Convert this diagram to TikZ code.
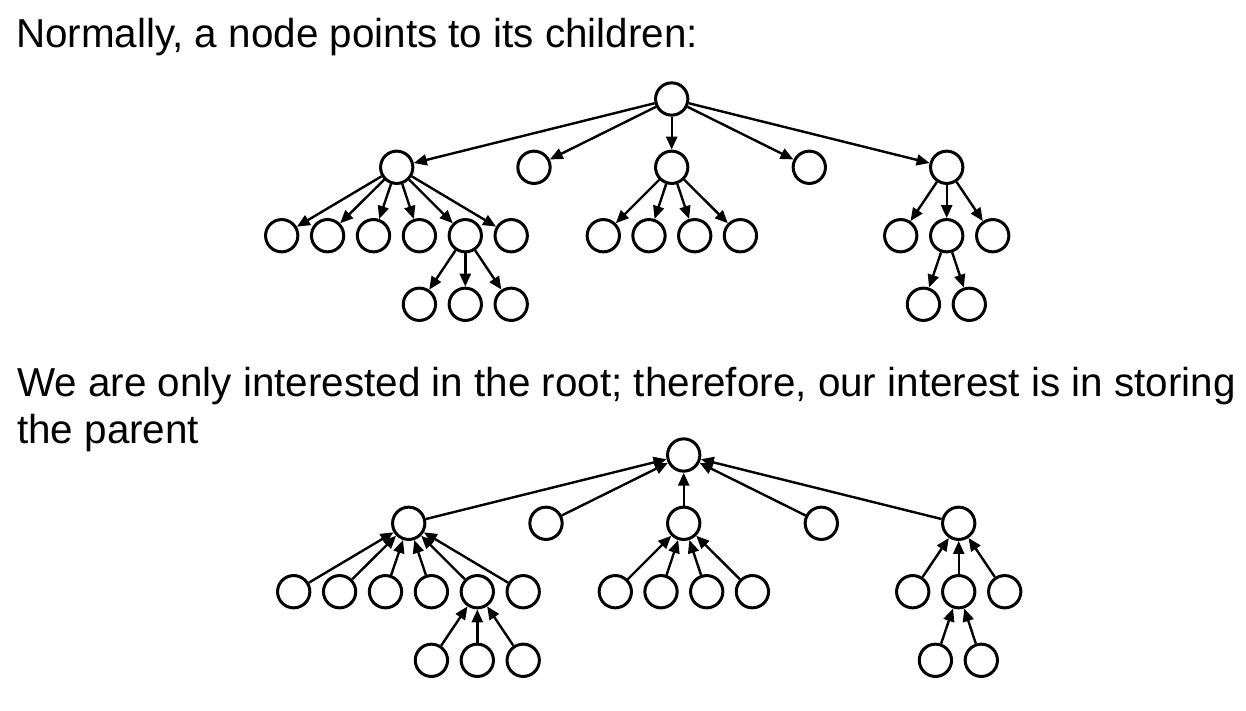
\documentclass[tikz,border=0pt]{standalone}
\usepackage{fontspec}
\setmainfont{Liberation Sans}
\usetikzlibrary{arrows.meta}
\tikzset{
  tn/.style={circle,draw=black,line width=3pt,minimum size=32.3pt,inner sep=0pt,fill=white},
  edge/.style={line width=2.4pt,draw=black},
  tip/.style={-{Triangle[length=13pt,width=11pt]}},
  lbl/.style={anchor=base west,inner sep=0pt,font=\fontsize{40.4}{46.6}\selectfont}
}
\newcommand{\mytreenodes}{%
  \node[tn] (r) at (671.7,99) {};
  \node[tn] (a) at (396.7,167.3) {};
  \node[tn] (b) at (534,167.3) {};
  \node[tn] (c) at (671.7,167.3) {};
  \node[tn] (d) at (809.3,167.3) {};
  \node[tn] (e) at (946.7,167.3) {};
  \node[tn] (a1) at (281.7,235.7) {};
  \node[tn] (a2) at (327.6,235.7) {};
  \node[tn] (a3) at (373.5,235.7) {};
  \node[tn] (a4) at (419.4,235.7) {};
  \node[tn] (a5) at (465.3,235.7) {};
  \node[tn] (a6) at (511.2,235.7) {};
  \node[tn] (a51) at (419.4,304.3) {};
  \node[tn] (a52) at (465.3,304.3) {};
  \node[tn] (a53) at (511.2,304.3) {};
  \node[tn] (c1) at (603.3,235.7) {};
  \node[tn] (c2) at (649,235.7) {};
  \node[tn] (c3) at (694.7,235.7) {};
  \node[tn] (c4) at (740.4,235.7) {};
  \node[tn] (e1) at (900.7,235.7) {};
  \node[tn] (e2) at (946.7,235.7) {};
  \node[tn] (e3) at (992.7,235.7) {};
  \node[tn] (e21) at (923.4,304.3) {};
  \node[tn] (e22) at (969.3,304.3) {};
}
\newcommand{\myedgelist}{r/a,r/b,r/c,r/d,r/e,a/a1,a/a2,a/a3,a/a4,a/a5,a/a6,a5/a51,a5/a52,a5/a53,c/c1,c/c2,c/c3,c/c4,e/e1,e/e2,e/e3,e2/e21,e2/e22}
\begin{document}
\begin{tikzpicture}[x=1pt,y=-1pt]
\useasboundingbox[fill=white] (0,0) rectangle (1246,711);
\node[lbl] (t1) at (16,47.7) {Normally, a node points to its children:};
\node[lbl] (t2) at (17,396.7) {We are only interested in the root; therefore, our interest is in storing};
\node[lbl] (t3) at (17,443.3) {the parent};
\begin{scope}[name prefix=T-]
  \mytreenodes
  \foreach \p/\c in \myedgelist {\draw[edge,tip] (\p) -- (\c);}
\end{scope}
\begin{scope}[name prefix=B-,shift={(12,356)}]
  \mytreenodes
  \foreach \p/\c in \myedgelist {\draw[edge,tip] (\c) -- (\p);}
\end{scope}
\end{tikzpicture}
\end{document}
